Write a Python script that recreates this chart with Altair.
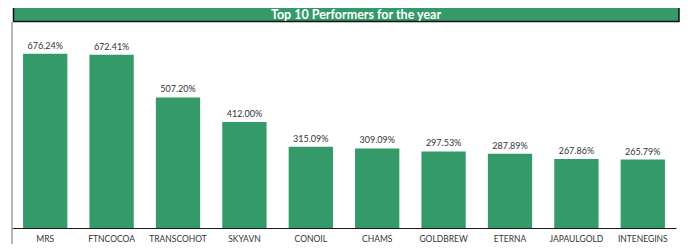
import altair as alt
import pandas as pd

title_text = "Top 10 Performers for the year"
stocks = ["MRS", "FTNCOCOA", "TRANSCOHOT", "SKYAVN", "CONOIL", "CHAMS",
          "GOLDBREW", "ETERNA", "JAPAULGOLD", "INTENEGINS"]
returns = [676.24, 672.41, 507.20, 412.00, 315.09, 309.09, 297.53, 287.89, 267.86, 265.79]

df = pd.DataFrame({"stock": stocks, "ret": returns})

GREEN = "#359a69"
FONT = "Liberation Sans Narrow, Lato, sans-serif"
W, H = 664, 206

xenc = alt.X("stock:N", sort=stocks, title=None,
             scale=alt.Scale(paddingInner=0.333, paddingOuter=0.1667),
             axis=alt.Axis(labelAngle=0, ticks=False, labelPadding=6,
                           domainColor="#1a1a1a", domainWidth=1.2,
                           labelFont=FONT, labelFontSize=8.5, labelColor="#333333",
                           grid=False))
yenc = alt.Y("ret:Q", scale=alt.Scale(domain=[0, 800]), axis=None)

bars = alt.Chart(df).mark_bar(color=GREEN).encode(x=xenc, y=yenc)

labels = alt.Chart(df).transform_calculate(
    lab="format(datum.ret, '.2f') + '%'"
).mark_text(dy=-8, font=FONT, fontSize=9, color="#333333").encode(
    x=alt.X("stock:N", sort=stocks), y="ret:Q", text="lab:N")

one = alt.Data(values=[{"a": 1}])

banner = alt.Chart(one).mark_rect(color=GREEN, stroke="#111111", strokeWidth=1.5).encode(
    x=alt.value(1.5), x2=alt.value(667), y=alt.value(-15.5), y2=alt.value(-0.5))

title = alt.Chart(one).mark_text(font="Lato", fontSize=12.5, fontWeight="bold",
                                 color="white").encode(
    x=alt.value(344), y=alt.value(-6.8), text=alt.value(title_text))

leftline = alt.Chart(one).mark_rule(color="#888888", strokeWidth=1.2).encode(
    x=alt.value(0), y=alt.value(0), y2=alt.value(240))

chart = alt.layer(bars, labels, leftline, banner, title).properties(
    width=W, height=H,
    autosize=alt.AutoSizeParams(type="none"),
    padding={"left": 4, "top": 14, "right": 4, "bottom": 16}
).configure(background="white").configure_view(stroke=None)

chart.save("out.html", embed_options={"renderer": "svg", "actions": False})
